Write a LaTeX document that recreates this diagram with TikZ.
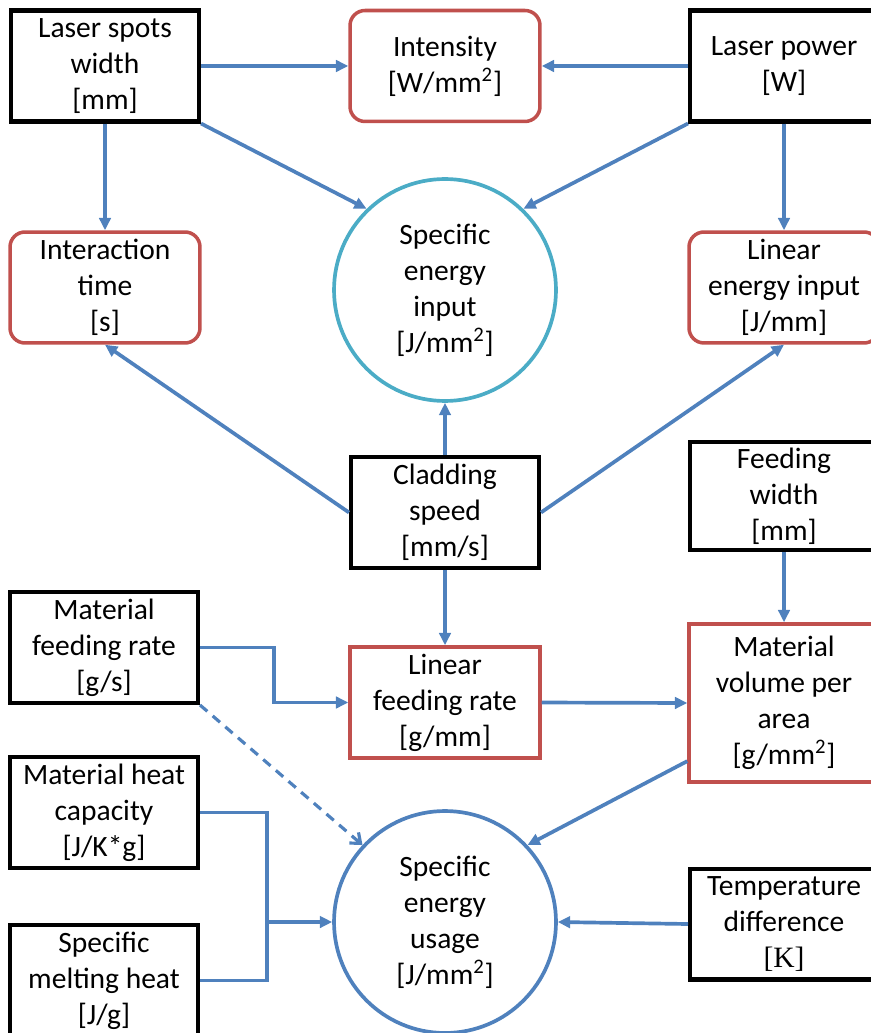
\documentclass[tikz,border=0pt]{standalone}
\usepackage{fontspec}
\setmainfont{Carlito}
\newfontfamily\serifk{Liberation Serif}
\usepackage{tikz}
\usetikzlibrary{arrows.meta}
\definecolor{flowblue}{RGB}{79,129,189}
\definecolor{flowred}{RGB}{192,80,77}
\definecolor{flowcyan}{RGB}{75,172,198}

\begin{document}
\begin{tikzpicture}[x=0.02cm,y=-0.02cm,
  every node/.style={font=\fontsize{16.8}{20.5}\selectfont,align=center,inner sep=0pt},
  inbox/.style={draw=black,line width=2.3pt,minimum width=3.76cm,minimum height=2.22cm},
  derived/.style={draw=flowred,line width=2pt,minimum width=3.8cm,minimum height=2.22cm},
  derivedround/.style={derived,rounded corners=0.3cm},
  result/.style={circle,line width=2.1pt,minimum size=4.44cm},
  arr/.style={draw=flowblue,line width=2.1pt,-{Triangle[length=7pt,width=6.5pt]}},
  dasharr/.style={draw=flowblue,line width=1.8pt,dash pattern=on 5.5pt off 4pt,-{Straight Barb[length=5pt,width=8pt]}}]
  \useasboundingbox (0,0) rectangle (870,1033);
  % inputs and derived quantities
  \node[inbox] (lsw) at (105,66) {Laser spots\\width\\{[mm]}};
  \node[derivedround] (int) at (445,66) {Intensity\\{[W/mm\textsuperscript{2}]}};
  \node[inbox] (lp) at (784,66) {Laser power\\{[W]}};
  \node[derivedround] (ict) at (105,287.5) {Interaction\\time\\{[s]}};
  \node[result,draw=flowcyan] (sei) at (445,290) {Specific\\energy\\input\\{[J/mm\textsuperscript{2}]}};
  \node[derivedround] (lei) at (784,287.5) {Linear\\energy input\\{[J/mm]}};
  \node[inbox] (cs) at (445,512.5) {Cladding\\speed\\{[mm/s]}};
  \node[inbox,minimum height=2.16cm] (fw) at (784,496) {Feeding\\width\\{[mm]}};
  \node[inbox] (mfr) at (104,647.5) {Material\\feeding rate\\{[g/s]}};
  \node[derived] (lfr) at (445,702.5) {Linear\\feeding rate\\{[g/mm]}};
  \node[derived,minimum height=3.16cm] (mvpa) at (784,703) {Material\\volume per\\area\\{[g/mm\textsuperscript{2}]}};
  \node[inbox] (mhc) at (104,812.5) {Material heat\\capacity\\{[J/K*g]}};
  \node[result,draw=flowblue] (seu) at (445,922) {Specific\\energy\\usage\\{[J/mm\textsuperscript{2}]}};
  \node[inbox] (td) at (784,924) {Temperature\\difference\\{\serifk [K]}};
  \node[inbox] (smh) at (104,980.5) {Specific\\melting heat\\{[J/g]}};
  \coordinate (join) at (267,922);

  % connectors
  \draw[arr] (lsw.east) -- (int.west);
  \draw[arr] (lp.west) -- (int.east);
  \draw[arr] (lsw.south east) -- (sei.134);
  \draw[arr] (lp.south west) -- (sei.46);
  \draw[arr] (lsw.south) -- (ict.north);
  \draw[arr] (lp.south) -- (lei.north);
  \draw[arr] (cs.north) -- (sei.south);
  \draw[arr] (cs.west) -- (ict.south);
  \draw[arr] (cs.east) -- (lei.south);
  \draw[arr] (cs.south) -- (lfr.north);
  \draw[arr] (mfr.east) -- ++(74,0) |- (lfr.west);
  \draw[dasharr] (mfr.south east) -- (seu.137);
  \draw[arr] (lfr.east) -- (mvpa.west);
  \draw[arr] (fw.south) -- (mvpa.north);
  \draw[arr] (mvpa.211) -- (seu.43);
  \draw[flowblue,line width=2.1pt] (mhc.east) -| (join) |- (smh.east);
  \draw[arr] (join) -- (seu.west);
  \draw[arr] (td.west) -- (seu.east);
\end{tikzpicture}
\end{document}
